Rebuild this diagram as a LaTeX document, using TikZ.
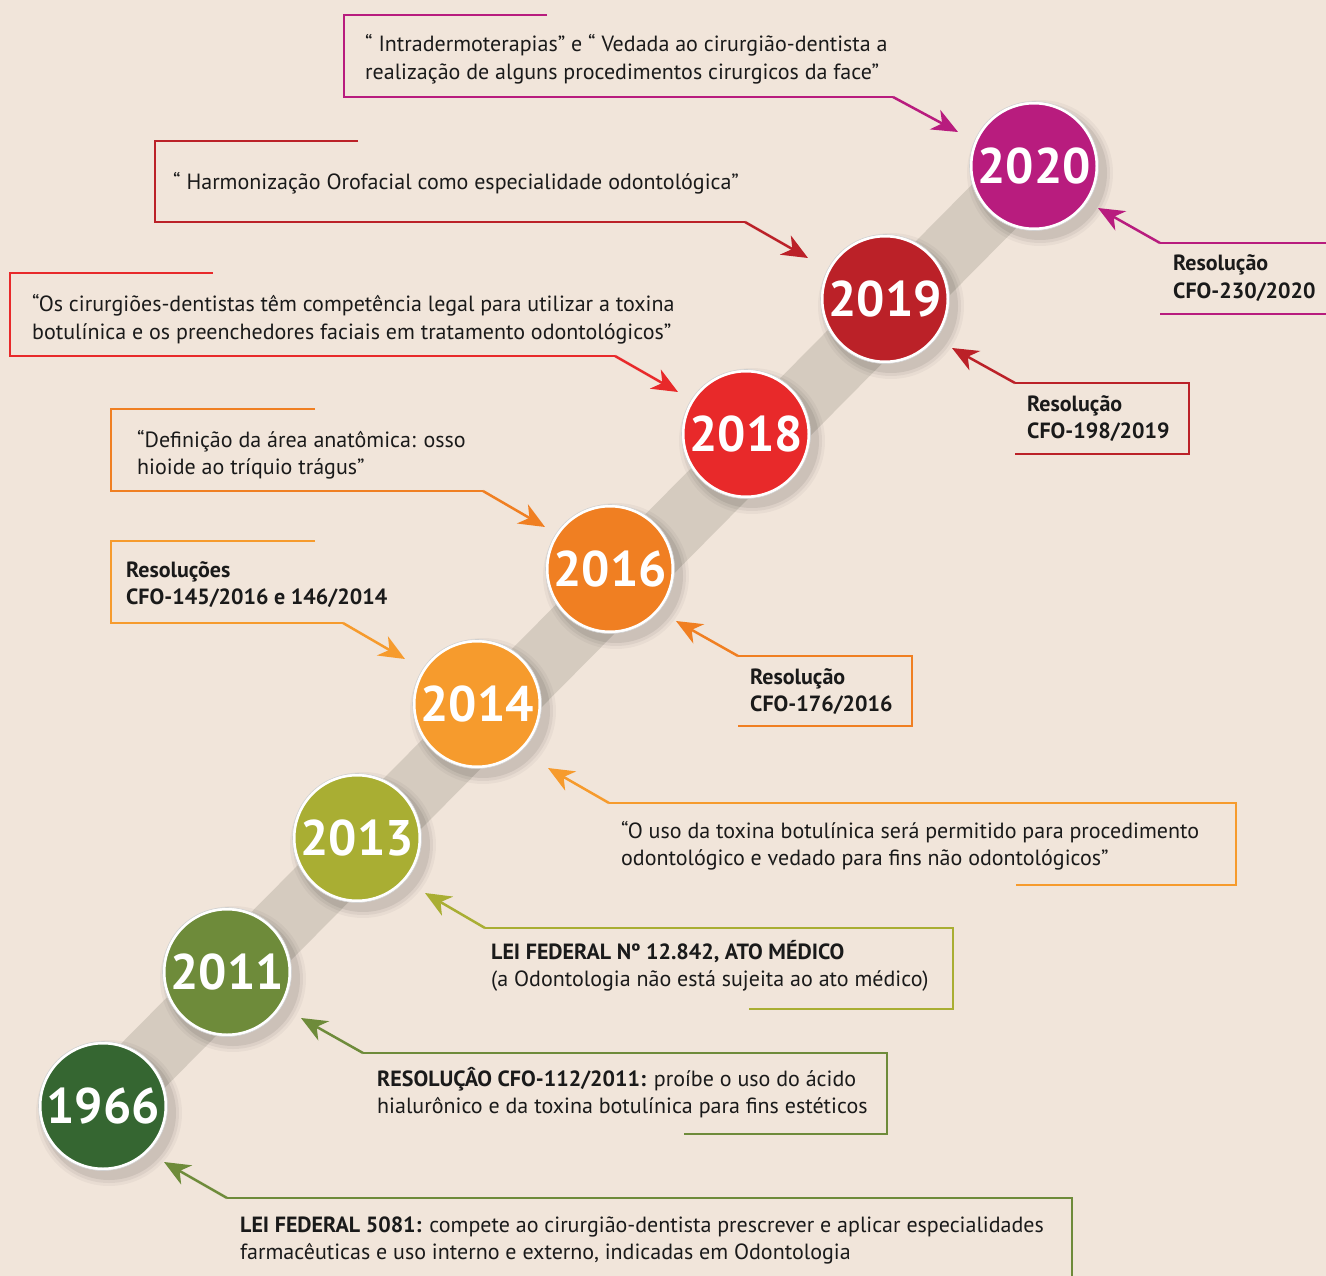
\documentclass[tikz,border=0pt]{standalone}
\usepackage{fontspec}
\setmainfont{PT Sans}
\usetikzlibrary{arrows.meta}
\definecolor{bg}{HTML}{F1E5DA}
\definecolor{band}{HTML}{D5CBBF}
\definecolor{ink}{HTML}{1A1A1A}
\definecolor{cA}{HTML}{B81C7E}
\definecolor{cB}{HTML}{BB2128}
\definecolor{cC}{HTML}{E8292A}
\definecolor{cD}{HTML}{F07F22}
\definecolor{cE}{HTML}{F69B2D}
\definecolor{cF}{HTML}{A9AE33}
\definecolor{cG}{HTML}{6E8B3A}
\definecolor{cH}{HTML}{356631}
\newcommand\twol[2]{\vtop{\hbox{#1}\hbox{#2}}}
\tikzset{
  yearc/.style={circle, minimum size=126pt, inner sep=0, fill=#1, draw=white, line width=3pt,
    text=white, font=\fontsize{50}{50}\selectfont\bfseries},
  bracket/.style={draw=#1, line width=2.5pt, line join=miter},
  pointer/.style={draw=#1, line width=2.5pt, -{Stealth[length=26pt,width=22pt,inset=8pt]}, fill=#1},
  txt/.style={anchor=base west, inner sep=0, text=ink, font=\fontsize{22}{27.5}\selectfont},
  btxt/.style={txt, font=\fontsize{22}{27.5}\selectfont\bfseries},
}
\begin{document}
\begin{tikzpicture}[x=1pt,y=-1pt]
\fill[bg] (0,0) rectangle (1326,1276);
\useasboundingbox (0,0) rectangle (1326,1276);
% band
\draw[band, line width=62pt] (103,1106) -- (1034,166);
% shadows
\foreach \x/\y in {103/1106,227/972,357/838,477/704,610/569,746/434,885/299,1034/166}{
  \foreach \r/\o in {73/0.035,70/0.05,67/0.07}{
    \fill[black, opacity=\o] (\x+6,\y+7) circle (\r);
  }
}
% circles
\node[yearc=cH] (c1966) at (103,1106) {1966};
\node[yearc=cG] (c2011) at (227,972) {2011};
\node[yearc=cF] (c2013) at (357,838) {2013};
\node[yearc=cE] (c2014) at (477,704) {2014};
\node[yearc=cD] (c2016) at (610,569) {2016};
\node[yearc=cC] (c2018) at (746,434) {2018};
\node[yearc=cB] (c2019) at (885,299) {2019};
\node[yearc=cA] (c2020) at (1034,166) {2020};
\foreach \n in {c1966,c2011,c2013,c2014,c2016,c2018,c2019,c2020}{
  \draw[black!18, line width=0.6pt] (\n.center) circle (64.5);
}

% 1: 2020 upper
\draw[bracket=cA] (547,15) -- (344,15) -- (344,97) -- (893,97) coordinate (k1);
\coordinate (t1) at ([shift={(-76,-34)}]c2020.center);
\draw[pointer=cA] (k1) -- (t1);
\node[txt] (n1) at (365,52) {\twol{“ Intradermoterapias” e “ Vedada ao cirurgião-dentista a}{realização de alguns procedimentos cirurgicos da face”}};

% 2: 2020 right
\draw[bracket=cA] (1326,243) -- (1160,243) coordinate (k2);
\draw[bracket=cA] (1160,314) -- (1326,314);
\coordinate (t2) at ([shift={(64,42)}]c2020.center);
\draw[pointer=cA] (k2) -- (t2);
\node[btxt] (n2) at (1173,271) {\twol{Resolução}{CFO-230/2020}};

% 3: 2019 upper
\draw[bracket=cB] (358,141) -- (155,141) -- (155,222) -- (745,222) coordinate (k3);
\coordinate (t3) at ([shift={(-77,-41)}]c2019.center);
\draw[pointer=cB] (k3) -- (t3);
\node[txt] (n3) at (173,190) {“ Harmonização Orofacial como especialidade odontológica”};

% 4: 2019 right
\draw[bracket=cB] (1015,454) -- (1189,454) -- (1189,383) -- (1015,383) coordinate (k4);
\coordinate (t4) at ([shift={(67,49)}]c2019.center);
\draw[pointer=cB] (k4) -- (t4);
\node[btxt] (n4) at (1027,411) {\twol{Resolução}{CFO-198/2019}};

% 5: 2018
\draw[bracket=cC] (213,273) -- (10,273) -- (10,356) -- (615,356) coordinate (k5);
\coordinate (t5) at ([shift={(-68,-42)}]c2018.center);
\draw[pointer=cC] (k5) -- (t5);
\node[txt] (n5) at (32,312) {\twol{“Os cirurgiões-dentistas têm competência legal para utilizar a toxina}{botulínica e os preenchedores faciais em tratamento odontológicos”}};

% 6: 2016 upper
\draw[bracket=cD] (315,409) -- (111,409) -- (111,491) -- (483,491) coordinate (k6);
\coordinate (t6) at ([shift={(-65,-42)}]c2016.center);
\draw[pointer=cD] (k6) -- (t6);
\node[txt] (n6) at (137,447) {\twol{“Definição da área anatômica: osso}{hioide ao tríquio trágus”}};

% 7: 2014 upper
\draw[bracket=cE] (315,541) -- (111,541) -- (111,623) -- (343,623) coordinate (k7);
\coordinate (t7) at ([shift={(-72,-45)}]c2014.center);
\draw[pointer=cE] (k7) -- (t7);
\node[btxt] (n7) at (126,577) {\twol{Resoluções}{CFO-145/2016 e 146/2014}};

% 8: 2016 right
\draw[bracket=cD] (738,726) -- (912,726) -- (912,656) -- (738,656) coordinate (k8);
\coordinate (t8) at ([shift={(66,52)}]c2016.center);
\draw[pointer=cD] (k8) -- (t8);
\node[btxt] (n8) at (750,684) {\twol{Resolução}{CFO-176/2016}};

% 9: 2014 lower
\draw[bracket=cE] (1016,885) -- (1236,885) -- (1236,803) -- (609,803) coordinate (k9);
\coordinate (t9) at ([shift={(71,64)}]c2014.center);
\draw[pointer=cE] (k9) -- (t9);
\node[txt] (n9) at (621,838) {\twol{“O uso da toxina botulínica será permitido para procedimento}{odontológico e vedado para fins não odontológicos”}};

% 10: 2013
\draw[bracket=cF] (749,1009) -- (953,1009) -- (953,928) -- (485,928) coordinate (k10);
\coordinate (t10) at ([shift={(68,55)}]c2013.center);
\draw[pointer=cF] (k10) -- (t10);
\node[txt] (n10) at (491,959) {\twol{\textbf{LEI FEDERAL Nº 12.842, ATO MÉDICO}}{(a Odontologia não está sujeita ao ato médico)}};

% 11: 2011
\draw[bracket=cG] (684,1134) -- (887,1134) -- (887,1053) -- (363,1053) coordinate (k11);
\coordinate (t11) at ([shift={(74,46)}]c2011.center);
\draw[pointer=cG] (k11) -- (t11);
\node[txt] (n11) at (377,1086) {\twol{\textbf{RESOLUÇÂO CFO-112/2011:} proíbe o uso do ácido}{hialurônico e da toxina botulínica para fins estéticos}};

% 12: 1966
\draw[bracket=cG] (1072,1276) -- (1072,1198) -- (227,1198) coordinate (k12);
\coordinate (t12) at ([shift={(61,56)}]c1966.center);
\draw[pointer=cG] (k12) -- (t12);
\node[txt] (n12) at (240,1232) {\twol{\textbf{LEI FEDERAL 5081:} compete ao cirurgião-dentista prescrever e aplicar especialidades}{farmacêuticas e uso interno e externo, indicadas em Odontologia}};
\end{tikzpicture}
\end{document}
